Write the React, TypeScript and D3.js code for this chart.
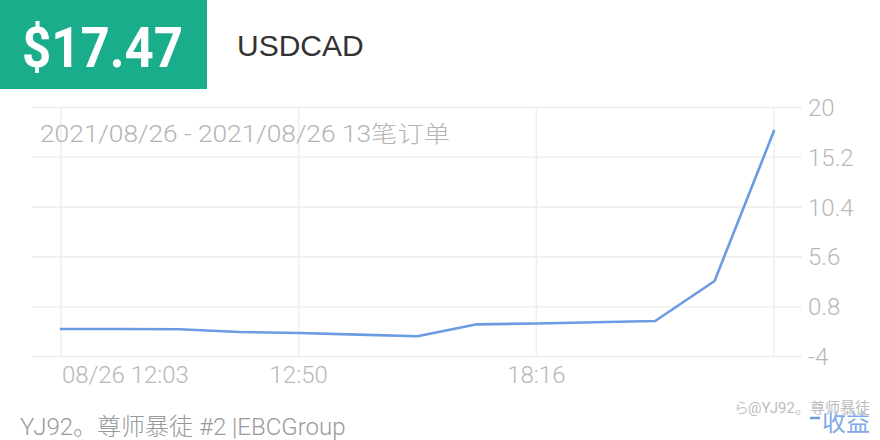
import React from "react";
import * as d3 from "d3";

const timeIndex = [0, 1, 2, 3, 4, 5, 6, 7, 8, 9, 10, 11, 12];
const profitValues = [-1.35, -1.35, -1.38, -1.64, -1.73, -1.89, -2.05, -0.9, -0.82, -0.7, -0.58, 3.28, 17.75];
const xTickIndex = [0, 4, 8, 12];
const xTickLabels = ["08/26 12:03", "12:50", "18:16", ""];
const yTicks = [-4, 0.8, 5.6, 10.4, 15.2, 20];
const headlineValue = "$17.47";
const symbol = "USDCAD";
const subtitle = "2021/08/26 - 2021/08/26 13笔订单";
const footer = "YJ92。尊师暴徒 #2 |EBCGroup";
const legendLabel = "收益";
const watermark = "@YJ92。尊师暴徒";

const W = 880;
const H = 440;
const FONT = "Roboto, 'Noto Sans CJK SC', sans-serif";

export default function App() {
  const x = d3.scalePoint<number>().domain(timeIndex).range([61, 774]);
  const y = d3.scaleLinear().domain([-4, 20]).range([356.5, 107.5]);
  const line = d3
    .line<number>()
    .x((_, i) => x(timeIndex[i]) as number)
    .y((d) => y(d));
  const gridLeft = 32;
  const gridRight = 802;
  return (
    <svg
      width={W}
      height={H}
      style={{ position: "absolute", left: 0, top: 0, background: "#fff" }}
      fontFamily={FONT}
    >
      <rect x={0} y={0} width={W} height={H} fill="#fff" />
      <rect x={0} y={0} width={207} height={89} fill="#1aad8b" />
      <text
        x={22}
        y={67}
        fill="#fff"
        fontSize={55}
        fontWeight={700}
        textLength={161}
        lengthAdjust="spacingAndGlyphs"
        fontFamily="Roboto, sans-serif"
      >
        {headlineValue}
      </text>
      <text x={237} y={56} fill="#333" fontSize={30} fontFamily="'Liberation Sans', Arial, sans-serif">
        {symbol}
      </text>

      {/* grid */}
      {yTicks.map((t) => (
        <line
          key={"h" + t}
          x1={gridLeft}
          x2={gridRight}
          y1={y(t)}
          y2={y(t)}
          stroke="#efefef"
          strokeWidth={1.6}
        />
      ))}
      {xTickIndex.map((i) => (
        <line
          key={"v" + i}
          x1={x(i) as number}
          x2={x(i) as number}
          y1={y(20)}
          y2={y(-4)}
          stroke="#efefef"
          strokeWidth={1.6}
        />
      ))}

      <text x={40} y={142} fill="#b4b4b4" fontSize={23} fontWeight={300} textLength={410} lengthAdjust="spacingAndGlyphs">
        {subtitle}
      </text>

      {yTicks.map((t) => (
        <text
          key={"yl" + t}
          x={808}
          y={y(t)}
          dy="0.35em"
          fill="#b8b8b8"
          fontSize={24}
          fontWeight={300}
        >
          {String(t)}
        </text>
      ))}
      {xTickIndex.map((i, k) => (
        <text
          key={"xl" + i}
          x={k === 0 ? (x(i) as number) + 1 : (x(i) as number)}
          y={383}
          fill="#b8b8b8"
          fontSize={24}
          fontWeight={300}
          textAnchor={k === 0 ? "start" : "middle"}
        >
          {xTickLabels[k]}
        </text>
      ))}

      <path
        d={line(profitValues) || ""}
        fill="none"
        stroke="#6b9ce2"
        strokeWidth={2.6}
        strokeLinejoin="round"
        strokeLinecap="round"
      />

      <text x={20} y={435} fill="#9a9a9a" fontSize={24} fontWeight={300}>
        {footer}
      </text>

      {/* legend */}
      <line x1={810} x2={820} y1={418} y2={418} stroke="#6b9ce2" strokeWidth={2.5} />
      <text x={822} y={431} fill="#7fa9e6" fontSize={24}>
        {legendLabel}
      </text>
      {/* watermark */}
      <text x={734} y={413} fill="#c8c8c8" fontSize={15}>
        {"ら"}
      </text>
      <text
        x={748}
        y={413}
        fill="#bdbdbd"
        fontSize={15}
        stroke="#fff"
        strokeWidth={0.6}
        paintOrder="stroke"
      >
        {watermark}
      </text>
    </svg>
  );
}
